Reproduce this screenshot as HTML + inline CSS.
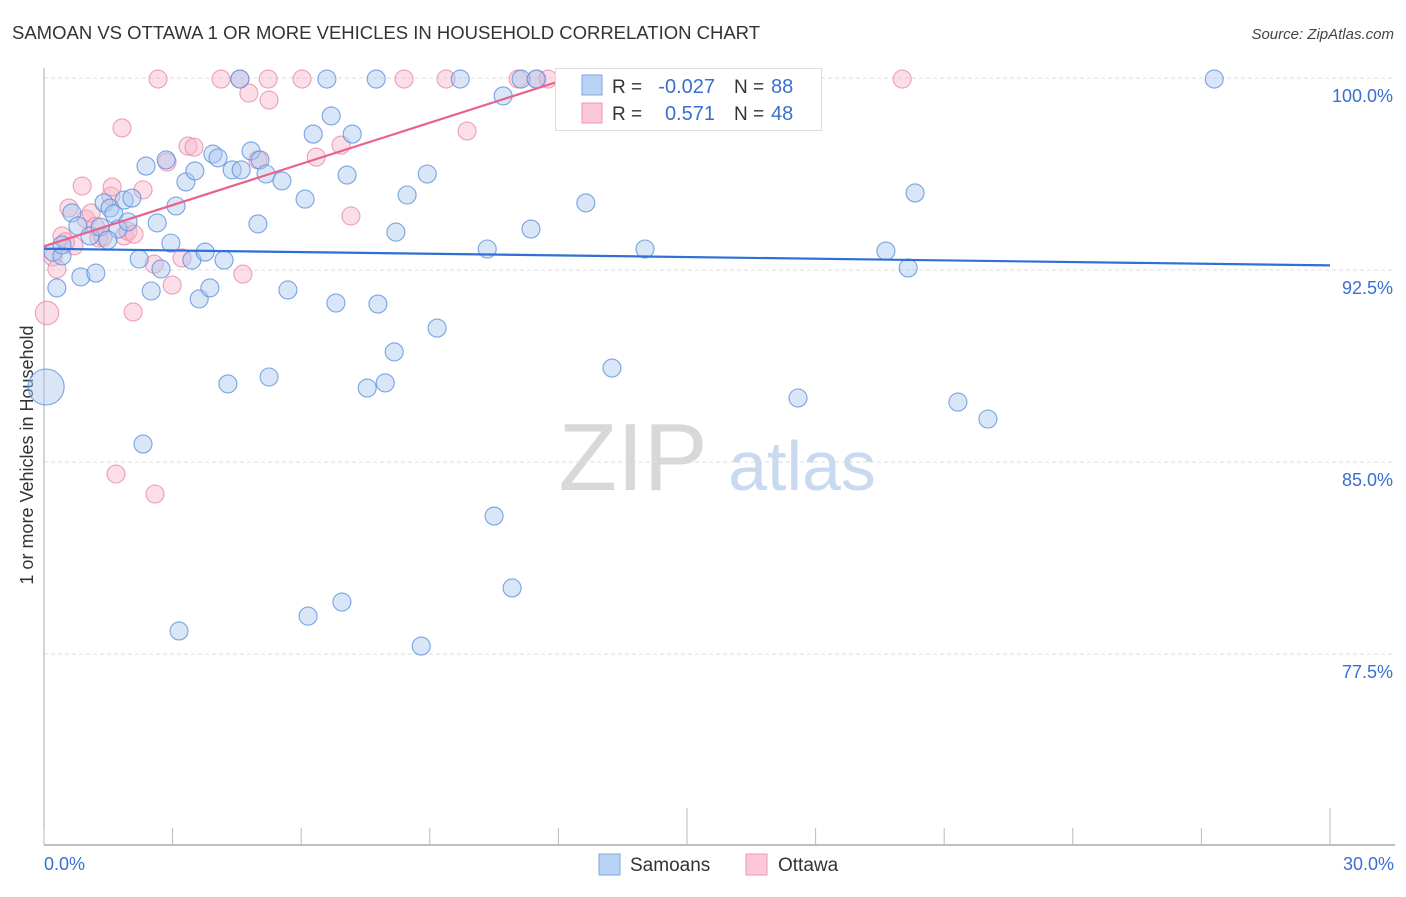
<!DOCTYPE html>
<html><head><meta charset="utf-8">
<style>
body{margin:0;background:#fff;font-family:"Liberation Sans",sans-serif;}
svg text{font-family:"Liberation Sans",sans-serif;}
</style></head>
<body>
<svg id="chart" width="1406" height="892" viewBox="0 0 1406 892" xmlns="http://www.w3.org/2000/svg">
<text x="12" y="39" font-size="18.5" fill="#333">SAMOAN VS OTTAWA 1 OR MORE VEHICLES IN HOUSEHOLD CORRELATION CHART</text>
<text x="1394" y="39" font-size="15" fill="#444" font-style="italic" text-anchor="end">Source: ZipAtlas.com</text>
<text x="0" y="0" transform="translate(33,455) rotate(-90)" font-size="18" fill="#333" text-anchor="middle">1 or more Vehicles in Household</text>
<g>
<text x="633" y="490" font-size="96" fill="#d8d8d8" font-family="Liberation Serif,serif" text-anchor="middle">ZIP</text>
<text x="802" y="490" font-size="70" fill="#c9d9f0" text-anchor="middle">atlas</text>
</g>
<g id="grid"></g>
<g id="axes"></g>
<g id="pts"></g>
<g id="trend"></g>
<g>
<rect x="555.5" y="68.5" width="266" height="62" fill="#fff" stroke="#ddd"/>
<rect x="582" y="75" width="20" height="20" fill="#b9d3f5" stroke="#7ea6e0"/>
<rect x="582" y="103" width="20" height="20" fill="#fbc8d7" stroke="#ee9ab3"/>
<text x="612" y="93" font-size="19" fill="#333">R =</text>
<text x="715" y="93" font-size="20" fill="#3a6fd0" text-anchor="end">-0.027</text>
<text x="734" y="93" font-size="19" fill="#333">N =</text>
<text x="771" y="93" font-size="20" fill="#3a6fd0">88</text>
<text x="612" y="120" font-size="19" fill="#333">R =</text>
<text x="715" y="120" font-size="20" fill="#3a6fd0" text-anchor="end">0.571</text>
<text x="734" y="120" font-size="19" fill="#333">N =</text>
<text x="771" y="120" font-size="20" fill="#3a6fd0">48</text>
</g>
<g>
<rect x="599" y="854" width="21" height="21" fill="#b9d3f5" stroke="#7ea6e0"/>
<text x="630" y="871" font-size="19" fill="#333">Samoans</text>
<rect x="746" y="854" width="21" height="21" fill="#fbc8d7" stroke="#ee9ab3"/>
<text x="778" y="871" font-size="19" fill="#333">Ottawa</text>
</g>
</svg>
<script>
const xTicks=[0,3,6,9,12,15,18,21,24,27,30];
const yTicks=[77.5,85,92.5,100];
const yTickLabels=["77.5%","85.0%","92.5%","100.0%"];
const xEndLabels=["0.0%","30.0%"];
const samoanX=[0.21,0.30,0.42,0.65,0.79,0.86,1.07,1.21,1.31,1.40,1.54,1.63,1.73,1.87,1.96,2.05,2.22,2.38,2.50,2.64,2.73,2.85,2.96,3.08,3.15,3.31,3.45,3.52,3.62,3.76,3.87,3.94,4.06,4.20,4.29,4.39,4.60,4.57,4.83,4.99,5.04,5.18,5.25,5.55,5.69,6.09,6.16,6.28,6.60,6.70,6.81,6.95,7.07,7.19,7.54,7.75,7.79,7.96,8.17,8.21,8.47,8.80,8.94,9.17,9.71,10.34,10.50,10.71,10.92,11.13,11.36,11.48,12.64,13.25,14.02,14.98,17.59,19.64,20.16,20.32,21.32,22.02,27.30,2.31,0.05,0.42,1.49,12.32];
const samoanY=[93.20,91.80,93.05,94.73,94.22,92.23,93.83,92.38,94.18,95.12,94.92,94.69,94.10,95.23,94.38,95.31,92.93,96.56,91.68,94.34,92.54,96.80,93.55,95.00,78.40,95.94,92.89,96.37,91.37,93.20,91.80,97.03,96.88,92.89,88.05,96.41,96.41,99.96,97.15,94.30,96.80,96.25,88.32,95.98,91.72,95.27,78.98,97.81,99.96,98.52,91.21,79.53,96.21,97.81,87.89,99.96,91.17,88.09,89.30,93.98,95.43,77.81,96.25,90.23,99.96,93.32,82.89,99.30,80.08,99.96,94.10,99.96,95.12,88.67,93.32,99.96,87.50,93.24,92.58,95.51,87.34,86.68,99.96,85.70,87.93,93.48,93.67,99.96];
const samoanSize=[1,1,1,1,1,1,1,1,1,1,1,1,1,1,1,1,1,1,1,1,1,1,1,1,1,1,1,1,1,1,1,1,1,1,1,1,1,1,1,1,1,1,1,1,1,1,1,1,1,1,1,1,1,1,1,1,1,1,1,1,1,1,1,1,1,1,1,1,1,1,1,1,1,1,1,1,1,1,1,1,1,1,1,1,2,1,1,1];
const ottawaX=[0.07,0.21,0.30,0.42,0.58,0.70,0.89,0.98,1.10,1.28,1.38,1.56,1.59,1.68,1.82,1.87,1.96,2.31,2.08,2.57,2.59,2.66,2.87,2.99,3.22,3.36,3.50,4.13,4.57,4.78,4.99,4.64,5.23,5.25,6.02,6.35,6.93,7.16,8.40,9.38,9.87,11.06,11.50,11.76,20.02,0.50,1.20,2.10];
const ottawaY=[90.82,93.01,92.54,93.83,94.92,93.44,95.78,94.49,94.73,93.75,93.79,95.39,95.74,84.53,98.05,93.83,94.02,95.63,90.86,92.73,83.75,99.96,96.72,91.91,92.97,97.34,97.30,99.96,99.96,99.41,96.80,92.34,99.96,99.14,99.96,96.91,97.38,94.61,99.96,99.96,97.93,99.96,99.96,99.96,99.96,93.60,94.20,93.90];
const ottawaSize=[1.3,1,1,1,1,1,1,1,1,1,1,1,1,1,1,1,1,1,1,1,1,1,1,1,1,1,1,1,1,1,1,1,1,1,1,1,1,1,1,1,1,1,1,1,1,1,1,1];

const X0=44,X1=1330,Y0=845,Y100=78;
const xs=v=>X0+(v/30)*(X1-X0);
const ys=v=>Y100+(100-v)*((654-78)/22.5);
const NS='http://www.w3.org/2000/svg';
function mk(tag,attrs,parent){const e=document.createElementNS(NS,tag);for(const k in attrs)e.setAttribute(k,attrs[k]);document.getElementById(parent).appendChild(e);return e;}

yTicks.forEach((t,i)=>{
  const g=mk('line',{x1:X0,x2:1393,y1:ys(t),y2:ys(t),stroke:'#ddd','stroke-dasharray':'4,3'},'grid');
  
  
  const l=mk('text',{x:1393,y:ys(t)+24,'font-size':18,fill:'#3a6fd0','text-anchor':'end'},'grid');
  l.textContent=yTickLabels[i];
  
  
});
const ya=mk('line',{x1:X0,x2:X0,y1:68,y2:Y0,stroke:'#aaa'},'axes');


const xa=mk('line',{x1:X0,x2:1395,y1:Y0,y2:Y0,stroke:'#aaa','stroke-width':1.5},'axes');


xTicks.forEach((t,i)=>{
  const major=(i===5||i===10);
  const tk=mk('line',{x1:xs(t),x2:xs(t),y1:major?808:828,y2:Y0,stroke:'#bbb'},'axes');
  
  
});
const xl0=mk('text',{x:X0,y:870,'font-size':18,fill:'#3a6fd0'},'axes');
xl0.textContent=xEndLabels[0];


const xl1=mk('text',{x:1394,y:870,'font-size':18,fill:'#3a6fd0','text-anchor':'end'},'axes');
xl1.textContent=xEndLabels[1];



function dots(X,Y,S,fill,stroke,name){
  X.forEach((x,i)=>{
    const c=mk('circle',{cx:xs(x),cy:ys(Y[i]),r:9*S[i],fill:fill,stroke:stroke,'stroke-width':1.1,'fill-opacity':0.45,'stroke-opacity':0.8},'pts');
    
    
  });
}
dots(ottawaX,ottawaY,ottawaSize,'#f7b6c9','#ea8aa8','ottawa-point');
dots(samoanX,samoanY,samoanSize,'#a9c8f0','#5b8fdc','samoan-point');

function fit(X,Y){const n=X.length;let mx=0,my=0;X.forEach((x,i)=>{mx+=x;my+=Y[i];});mx/=n;my/=n;let sxy=0,sxx=0;X.forEach((x,i)=>{sxy+=(x-mx)*(Y[i]-my);sxx+=(x-mx)**2;});const b=sxy/sxx;return [my-b*mx,b];}
const fs=fit(samoanX,samoanY);
const bl=mk('line',{x1:xs(0),y1:ys(fs[0]),x2:xs(30),y2:ys(fs[0]+fs[1]*30),stroke:'#2f6fd6','stroke-width':2.2},'trend');


const fo=fit(ottawaX,ottawaY);
let xe=Math.min(30,(100-fo[0])/fo[1]);
const pl=mk('line',{x1:xs(0),y1:ys(fo[0]),x2:xs(xe),y2:ys(fo[0]+fo[1]*xe),stroke:'#e8628c','stroke-width':2.2},'trend');


</script>
</body></html>
